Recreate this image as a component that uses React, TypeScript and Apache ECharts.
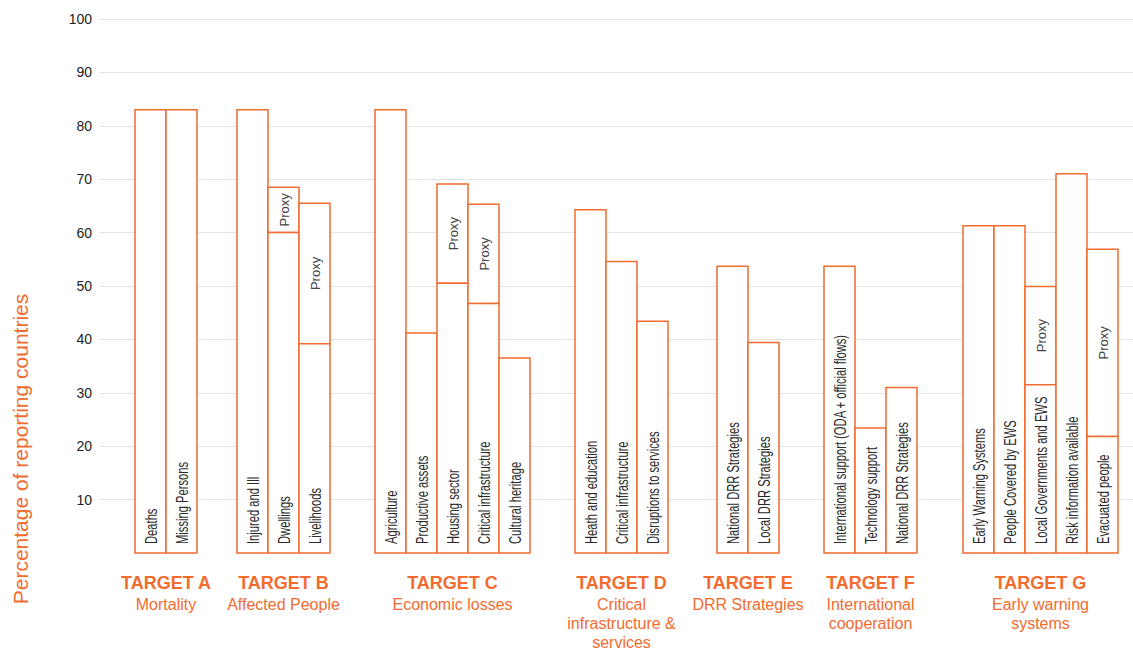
import React, { useEffect, useRef } from "react";
import * as echarts from "echarts";

const categories = [
  "Deaths", "Missing Persons",
  "Injured and Ill", "Dwellings", "Livelihoods",
  "Agriculture", "Productive assets", "Housing sector", "Critical infrastructure", "Cultural heritage",
  "Heath and education", "Critical infrastructure", "Disruptions to services",
  "National DRR Strategies", "Local DRR Strategies",
  "International support (ODA + official flows)", "Technology support", "National DRR Strategies",
  "Early Warning Systems", "People Covered by EWS", "Local Governments and EWS", "Risk information available", "Evacuated people",
];
const baseValues = [
  83, 83,
  83, 60, 39.2,
  83, 41.2, 50.5, 46.7, 36.5,
  64.3, 54.6, 43.4,
  53.7, 39.4,
  53.7, 23.4, 31,
  61.3, 61.3, 31.5, 71, 21.8,
];
const proxyTops: (number | null)[] = [
  null, null,
  null, 68.5, 65.5,
  null, null, 69.1, 65.3, null,
  null, null, null,
  null, null,
  null, null, null,
  null, null, 49.9, null, 56.9,
];
const groupTitles = ["TARGET A", "TARGET B", "TARGET C", "TARGET D", "TARGET E", "TARGET F", "TARGET G"];
const groupSubtitles = [
  "Mortality",
  "Affected People",
  "Economic losses",
  "Critical\ninfrastructure &\nservices",
  "DRR Strategies",
  "International\ncooperation",
  "Early warning\nsystems",
];
const groupSizes = [2, 3, 5, 3, 2, 3, 5];
const yTicks = [0, 10, 20, 30, 40, 50, 60, 70, 80, 90, 100];
const yTitle = "Percentage of reporting countries";

const ORANGE = "#f26b2f";
const BAR_PX = 31;
const GRID_LEFT = 100;
const CHART_W = 1133;
const LEFT_PAD_PX = 35;
const GAP_PX = [40, 45, 45, 49, 45, 46];

export default function App() {
  const ref = useRef<HTMLDivElement>(null);
  useEffect(() => {
    if (!ref.current) return;
    const chart = echarts.init(ref.current, null, { renderer: "svg" });

    const positions: number[] = [];
    const groupCenters: number[] = [];
    let cursor = LEFT_PAD_PX / BAR_PX;
    groupSizes.forEach((n, g) => {
      const start = cursor;
      for (let k = 0; k < n; k++) {
        positions.push(cursor + 0.5);
        cursor += 1;
      }
      groupCenters.push((start + cursor) / 2);
      if (g < GAP_PX.length) cursor += GAP_PX[g] / BAR_PX;
    });
    const xMax = (CHART_W - GRID_LEFT) / BAR_PX;

    const barData = categories.map((c, i) => [
      positions[i],
      baseValues[i],
      proxyTops[i] == null ? baseValues[i] : (proxyTops[i] as number),
      i,
    ]);
    const groupData = groupTitles.map((t, g) => [groupCenters[g], 0, g]);

    chart.setOption({
      animation: false,
      grid: { left: GRID_LEFT, right: 0, top: 19, bottom: 97, containLabel: false },
      xAxis: { type: "value", min: 0, max: xMax, show: false },
      yAxis: {
        type: "value",
        min: yTicks[0],
        max: yTicks[yTicks.length - 1],
        interval: 10,
        axisLine: { show: false },
        axisTick: { show: false },
        axisLabel: {
          formatter: (v: number) => (v === 0 ? "" : String(v)),
          color: "#222",
          fontSize: 14,
          fontFamily: "Liberation Sans",
          margin: 8,
        },
        splitLine: { show: true, showMinLine: false, lineStyle: { color: "#e3e3e3", width: 1 } },
      },
      graphic: [
        {
          type: "text",
          x: 20,
          y: 449,
          rotation: Math.PI / 2,
          style: {
            text: yTitle,
            font: "21px 'Liberation Sans'",
            fill: ORANGE,
            align: "center",
            verticalAlign: "middle",
          },
        },
      ],
      series: [
        {
          type: "custom",
          clip: false,
          data: barData,
          encode: { x: 0, y: 1 },
          renderItem: (params: any, api: any) => {
            const x = api.value(0);
            const base = api.value(1);
            const total = api.value(2);
            const idx = api.value(3);
            const bl = api.coord([x - 0.5, 0]);
            const tr = api.coord([x + 0.5, base]);
            const w = tr[0] - bl[0];
            const children: any[] = [];
            if (total > base) {
              const tt = api.coord([x + 0.5, total]);
              children.push({
                type: "rect",
                shape: { x: bl[0], y: tt[1], width: w, height: tr[1] - tt[1] },
                style: { fill: "#fff", stroke: ORANGE, lineWidth: 1.5 },
              });
              children.push({
                type: "text",
                x: bl[0] + w / 2 + 1,
                y: (tt[1] + tr[1]) / 2,
                rotation: Math.PI / 2,
                style: {
                  text: "Proxy",
                  font: "13px 'Liberation Sans'",
                  fill: "#444",
                  align: "center",
                  verticalAlign: "middle",
                },
              });
            }
            children.push({
              type: "rect",
              shape: { x: bl[0], y: tr[1], width: w, height: bl[1] - tr[1] },
              style: { fill: "#fff", stroke: ORANGE, lineWidth: 1.5 },
            });
            children.push({
              type: "text",
              x: bl[0] + w / 2 + 1,
              y: bl[1] - 9,
              rotation: Math.PI / 2,
              scaleX: 0.7,
              style: {
                text: categories[idx],
                font: "16px 'Liberation Sans'",
                fill: "#2a2a2a",
                align: "left",
                verticalAlign: "middle",
              },
            });
            return { type: "group", children };
          },
          z: 2,
        },
        {
          type: "custom",
          clip: false,
          data: groupData,
          encode: { x: 0, y: 1 },
          renderItem: (params: any, api: any) => {
            const x = api.value(0);
            const g = api.value(2);
            const p = api.coord([x, 0]);
            return {
              type: "group",
              children: [
                {
                  type: "text",
                  x: p[0],
                  y: p[1] + 30,
                  style: {
                    text: groupTitles[g],
                    font: "bold 18px 'Liberation Sans'",
                    fill: ORANGE,
                    align: "center",
                    verticalAlign: "middle",
                  },
                },
                {
                  type: "text",
                  x: p[0],
                  y: p[1] + 42,
                  style: {
                    text: groupSubtitles[g],
                    font: "16px 'Liberation Sans'",
                    fill: ORANGE,
                    align: "center",
                    verticalAlign: "top",
                    lineHeight: 19,
                  },
                },
              ],
            };
          },
        },
      ],
    });
    return () => chart.dispose();
  }, []);
  return (
    <div
      ref={ref}
      style={{ position: "fixed", left: 0, top: 0, width: "1133px", height: "650px", background: "#fff" }}
    />
  );
}
